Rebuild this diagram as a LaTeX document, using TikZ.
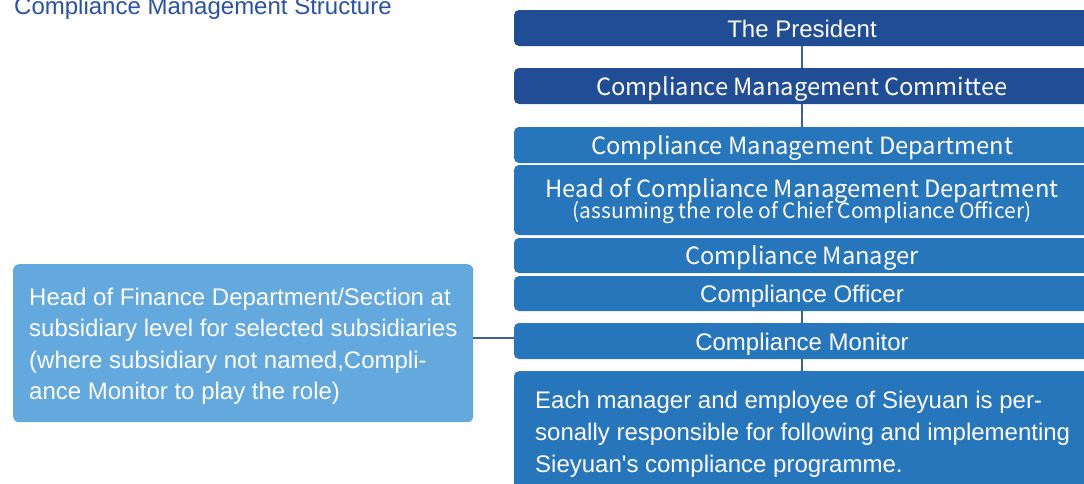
\documentclass[tikz,border=0pt]{standalone}
\usepackage{fontspec}
\setmainfont{Liberation Sans}[Ligatures=TeXOff]
\newfontfamily\cjk{Noto Sans CJK SC}
\definecolor{darkbox}{HTML}{204D93}
\definecolor{midbox}{HTML}{2776BB}
\definecolor{lightbox}{HTML}{63A9DD}
\definecolor{titleblue}{HTML}{2A52A0}
\definecolor{linkblue}{HTML}{3F5F95}
\begin{document}
\begin{tikzpicture}[x=1pt,y=-1pt,
  rowbox/.style={rounded corners=5pt, inner sep=0pt, minimum width=576pt,
    text=white, text height=18pt, text depth=0pt},
  darkrow/.style={rowbox, fill=darkbox},
  midrow/.style={rowbox, fill=midbox},
  arialtxt/.style={font=\fontsize{24}{32}\selectfont},
  cjktxt/.style={font=\cjk\fontsize{23.75}{32}\selectfont},
  linetxt/.style={text=white, inner sep=0pt, anchor=base west, font=\fontsize{24}{32}\selectfont},
  link/.style={draw=linkblue, line width=1.3pt}
]
\useasboundingbox (0,0) rectangle (1084,483);
\fill[white] (0,0) rectangle (1084,483);

\node[anchor=base west, inner sep=0pt, text=titleblue, font=\fontsize{24}{28}\selectfont] (title) at (14,14) {Compliance Management Structure};

\node[darkrow, arialtxt, minimum height=36pt] (pres) at (802,28) {The President};
\node[darkrow, cjktxt, minimum height=36pt] (cmc) at (802,86) {Compliance Management Committee};
\node[midrow, cjktxt, minimum height=36pt] (cmd) at (802,145) {Compliance Management Department};
\node[midrow, minimum height=70pt] (head) at (802,200) {};
\node[text=white, inner sep=0pt, anchor=base, font=\cjk\fontsize{23.75}{28}\selectfont] (headA) at (802,197) {Head of Compliance Management Department};
\node[text=white, inner sep=0pt, anchor=base, font=\cjk\fontsize{21}{24}\selectfont] (headB) at (802,218) {(assuming the role of Chief Compliance Officer)};
\node[midrow, cjktxt, minimum height=35pt] (mgr) at (802,255.5) {Compliance Manager};
\node[midrow, arialtxt, minimum height=35pt] (off) at (802,293.5) {Compliance Officer};
\node[midrow, arialtxt, minimum height=36pt] (mon) at (802,341) {Compliance Monitor};
\node[rounded corners=5pt, fill=midbox, inner sep=0pt, minimum width=576pt, minimum height=140pt, anchor=north] (emp) at (802,371) {};
\node[linetxt] (e1) at (535,408) {Each manager and employee of Sieyuan is per-};
\node[linetxt] (e2) at (535,440) {sonally responsible for following and implementing};
\node[linetxt] (e3) at (535,472) {Sieyuan's compliance programme.};

\node[rounded corners=6pt, fill=lightbox, inner sep=0pt, minimum width=460pt, minimum height=158pt, anchor=north west] (fin) at (13,264) {};
\node[linetxt] (f1) at (29,305) {Head of Finance Department/Section at};
\node[linetxt] (f2) at (29,336.5) {subsidiary level for selected subsidiaries};
\node[linetxt] (f3) at (29,368) {(where subsidiary not named,Compli-};
\node[linetxt] (f4) at (29,399.5) {ance Monitor to play the role)};

\draw[link] (pres.south) -- (cmc.north);
\draw[link] (cmc.south) -- (cmd.north);
\draw[link] (off.south) -- (mon.north);
\draw[link] (mon.south) -- (emp.north);
\draw[link] ([yshift=3pt]mon.west) -- ([yshift=3pt]mon.west -| fin.east);
\end{tikzpicture}
\end{document}
